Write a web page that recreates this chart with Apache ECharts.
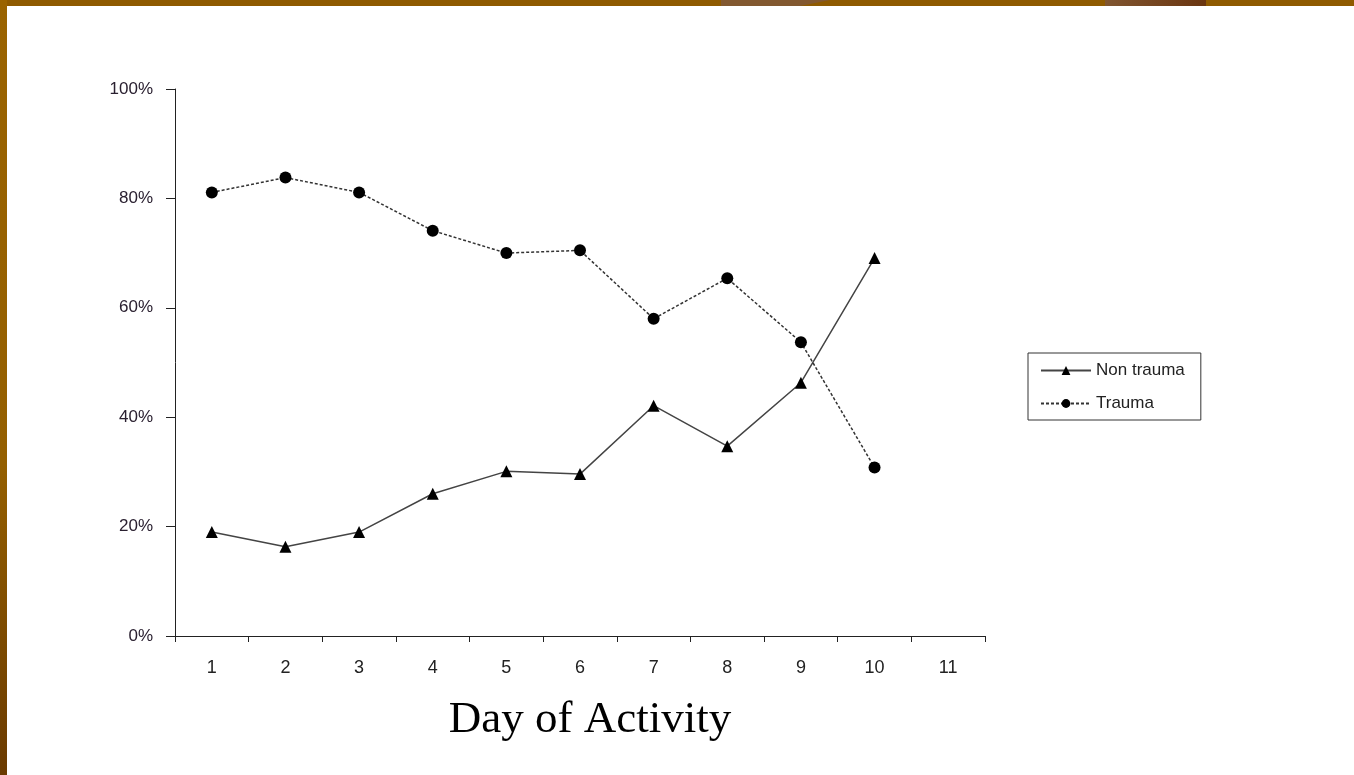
<!DOCTYPE html>
<html>
<head>
<meta charset="utf-8">
<script src="https://cdn.jsdelivr.net/npm/echarts@6/dist/echarts.min.js"></script>
<style>
html,body{margin:0;padding:0;background:#fff;}
#c{width:1354px;height:775px;}
</style>
</head>
<body>
<div id="c"></div>
<script>
const days = ['1','2','3','4','5','6','7','8','9','10','11'];
const nonTrauma = [19.0, 16.3, 19.0, 26.0, 30.1, 29.6, 42.1, 34.7, 46.3, 69.1];
const trauma = [81.1, 83.8, 81.1, 74.1, 70.0, 70.5, 58.0, 65.4, 53.7, 30.8];

const chart = echarts.init(document.getElementById('c'));
chart.setOption({
  backgroundColor: '#ffffff',
  animation: false,
  graphic: [
    {type:'rect', shape:{x:0,y:0,width:1354,height:6}, style:{fill:'#8f5a00'}, silent:true, z:100},
    {type:'polygon', shape:{points:[[721,0],[830,0],[800,6],[721,6]]}, style:{fill:'#825830'}, silent:true, z:101},
    {type:'rect', shape:{x:1105,y:0,width:101,height:6}, style:{fill:{type:'linear',x:0,y:0,x2:1,y2:0,colorStops:[{offset:0,color:'#805530'},{offset:1,color:'#6a3510'}]}}, silent:true, z:101},
    {type:'rect', shape:{x:0,y:0,width:7,height:775}, style:{fill:{type:'linear',x:0,y:0,x2:0,y2:1,colorStops:[{offset:0,color:'#9a6300'},{offset:0.6,color:'#945f00'},{offset:1,color:'#6a3a00'}]}}, silent:true, z:100}
  ],
  grid: {left:175, right:369, top:89, bottom:139, containLabel:false},
  legend: {
    orient:'vertical', left:1028, top:353,
    padding:[9,16,8,12],
    itemGap:16,
    itemWidth:50, itemHeight:11,
    borderColor:'#333', borderWidth:1,
    textStyle:{fontFamily:'Liberation Sans, Arial', fontSize:17, color:'#222'},
    data:['Non trauma','Trauma']
  },
  xAxis: {
    type:'category', data:days, boundaryGap:true,
    axisLine:{lineStyle:{color:'#222', width:1}},
    axisTick:{show:true, length:6, lineStyle:{color:'#222'}},
    axisLabel:{fontFamily:'Liberation Sans, Arial', fontSize:18, color:'#222', margin:23},
    name:'Day of Activity', nameLocation:'middle', nameGap:62,
    nameTextStyle:{fontFamily:'Liberation Serif, Times New Roman, serif', fontSize:45, color:'#000', padding:[0,0,0,20]}
  },
  yAxis: {
    type:'value', min:0, max:100, interval:20,
    axisLine:{show:true, lineStyle:{color:'#222', width:1}},
    axisTick:{show:true, length:9, lineStyle:{color:'#222'}},
    splitLine:{show:false},
    axisLabel:{fontFamily:'Liberation Sans, Arial', fontSize:17, color:'#2a2030', margin:22, formatter:'{value}%'}
  },
  series: [
    {
      name:'Non trauma', type:'line', data:nonTrauma,
      symbol:'triangle', symbolSize:12,
      itemStyle:{color:'#000'},
      lineStyle:{color:'#444', width:1.5, type:'solid'}
    },
    {
      name:'Trauma', type:'line', data:trauma,
      symbol:'circle', symbolSize:12,
      itemStyle:{color:'#000'},
      lineStyle:{color:'#333', width:1.5, type:[3,2]}
    }
  ]
});
</script>
</body>
</html>
